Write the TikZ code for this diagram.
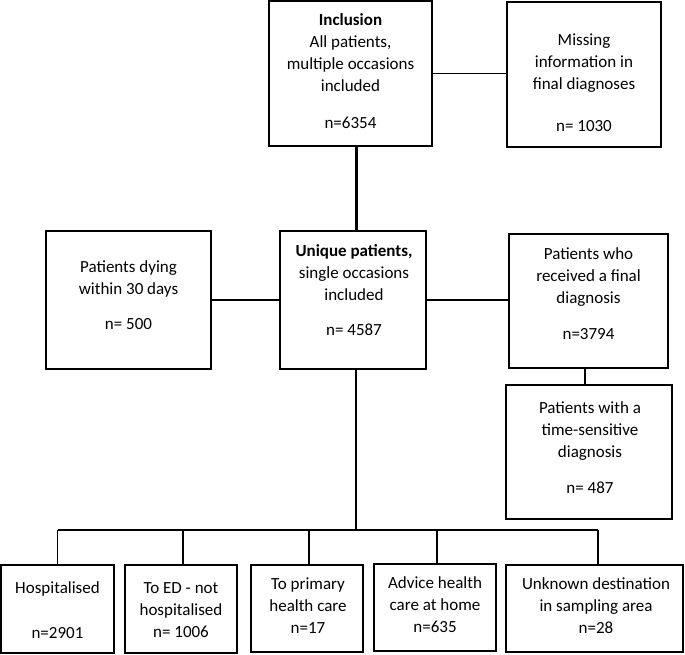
\documentclass[tikz,border=0pt]{standalone}
\usepackage{fontspec}
\setmainfont{Carlito}
\begin{document}
\begin{tikzpicture}[x=1pt,y=-1pt,
  box/.style={draw, line width=1.7pt, inner sep=0pt},
  txt/.style={inner sep=0pt, align=center, font=\fontsize{17}{22}\selectfont},
  thin/.style={line width=1.3pt},
  main/.style={line width=2.1pt}]
\useasboundingbox (0,0) rectangle (685,654);
% boxes
\node[box, minimum width=163pt, minimum height=145pt] (inc) at (350.5,73.5) {};
\node[box, minimum width=154pt, minimum height=145pt] (miss) at (584,74.5) {};
\node[box, minimum width=165pt, minimum height=138pt] (dying) at (128.5,300) {};
\node[box, minimum width=146pt, minimum height=138pt] (uni) at (353,300) {};
\node[box, minimum width=159pt, minimum height=134pt] (recv) at (588.5,301) {};
\node[box, minimum width=166pt, minimum height=134pt] (ts) at (589,452) {};
\node[box, minimum width=113pt, minimum height=88pt] (hosp) at (57.5,609) {};
\node[box, minimum width=112pt, minimum height=88pt] (ed) at (181,609) {};
\node[box, minimum width=112pt, minimum height=87pt] (prim) at (307,608.5) {};
\node[box, minimum width=122pt, minimum height=87pt] (adv) at (435,607.5) {};
\node[box, minimum width=177pt, minimum height=87pt] (unk) at (594.5,608.5) {};
% texts
\node[txt] (inc-t) at (350.5,71) {\textbf{Inclusion}\\All patients,\\multiple occasions\\included\\[15pt]n=6354};
\node[txt] (miss-t) at (584,83) {Missing\\information in\\final diagnoses\\[20pt]n= 1030};
\node[txt] (dying-t) at (128.5,295) {Patients dying\\within 30 days\\[13pt]n= 500};
\node[txt] (uni-t) at (354,290) {\textbf{Unique patients,}\\single occasions\\included\\[13pt]n= 4587};
\node[txt] (recv-t) at (588.5,294) {Patients who\\received a final\\diagnosis\\[14pt]n=3794};
\node[txt] (ts-t) at (590,447.5) {Patients with a\\time-sensitive\\diagnosis\\[14pt]n= 487};
\node[txt] (hosp-t) at (57.5,610) {Hospitalised\\[23pt]n=2901};
\node[txt] (ed-t) at (181,610) {To ED - not\\hospitalised\\n= 1006};
\node[txt] (prim-t) at (308,606) {To primary\\health care\\n=17};
\node[txt] (adv-t) at (435,604.5) {Advice health\\care at home\\n=635};
\node[txt] (unk-t) at (596,606) {Unknown destination\\in sampling area\\n=28};
% connectors
\coordinate (bus) at (356,530);
\draw[main] ([xshift=3.5pt]uni.north) -- ([xshift=3.5pt]uni.north |- inc.south);
\draw[thin] (inc.east) -- (inc.east -| miss.west);
\draw[thin] (dying.east) -- (uni.west);
\draw[thin] (uni.east) -- (uni.east -| recv.west);
\draw[thin] ([xshift=-3.5pt]recv.south) -- ([xshift=-3.5pt]recv.south |- ts.north);
\draw[main] ([xshift=3pt]uni.south) -- ([xshift=3pt]uni.south |- bus);
\draw[thin] (hosp.north |- bus) -- ([xshift=3.5pt]unk.north |- bus);
\draw[thin] (hosp.north) -- (hosp.north |- bus);
\draw[thin] ([xshift=2pt]ed.north) -- ([xshift=2pt]ed.north |- bus);
\draw[thin] ([xshift=2pt]prim.north) -- ([xshift=2pt]prim.north |- bus);
\draw[thin] ([xshift=2pt]adv.north) -- ([xshift=2pt]adv.north |- bus);
\draw[thin] ([xshift=3.5pt]unk.north) -- ([xshift=3.5pt]unk.north |- bus);
\end{tikzpicture}
\end{document}
